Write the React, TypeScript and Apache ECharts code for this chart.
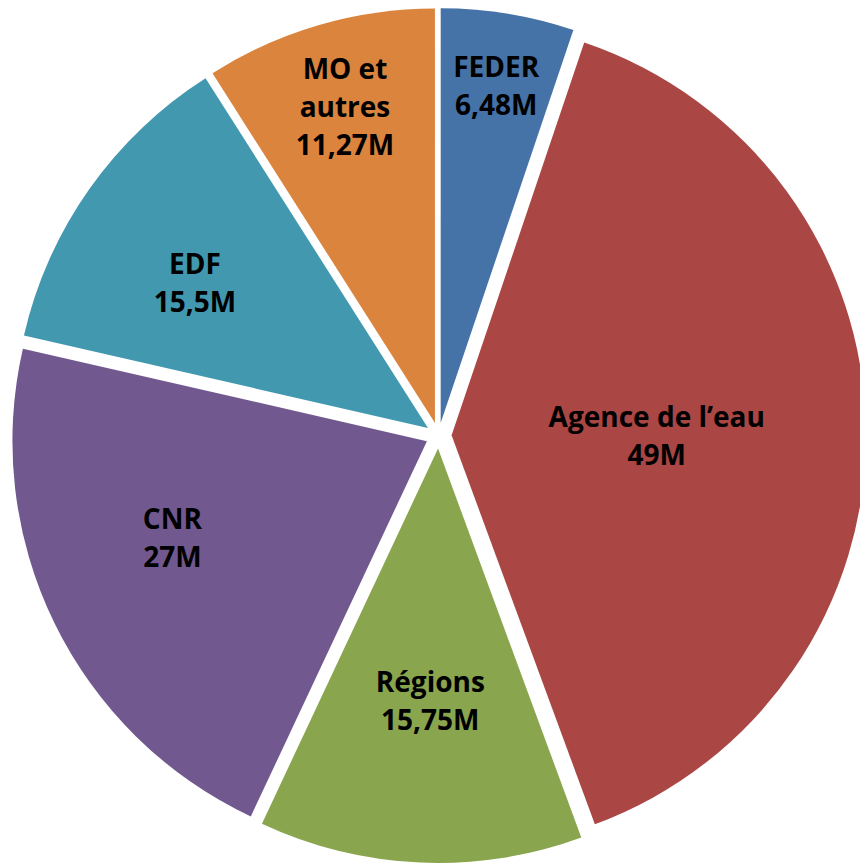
import React, { useEffect, useRef } from "react";
import * as echarts from "echarts";

const categories = ["FEDER", "Agence de l’eau", "Régions", "CNR", "EDF", "MO et\nautres"];
const values = [6.48, 49, 15.75, 27, 15.5, 11.27];
const colors = ["#4572A7", "#AA4643", "#89A54E", "#71588F", "#4198AF", "#DB843D"];
// label distance from the slice centre, as a fraction of the radius, and angle tweak (deg)
const labelRadius = [0.825, 0.495, 0.607, 0.656, 0.663, 0.796];
const labelAngleShift = [0, 0.8, -0.7, 5.4, -3.2, 0.4];

const CX = 438.6;
const CY = 435.5;
const R = 414.5;
const D = 13;

export default function App() {
  const ref = useRef<HTMLDivElement>(null);
  useEffect(() => {
    if (!ref.current) return;
    const chart = echarts.init(ref.current, null, { renderer: "svg" });
    const total = values.reduce((a, b) => a + b, 0);
    const mids: number[] = [];
    let acc = 0;
    values.forEach((v) => {
      mids.push(((acc + v / 2) / total) * 360);
      acc += v;
    });
    const texts = categories.map((name, i) => {
      const bis = (mids[i] * Math.PI) / 180;
      const a = ((mids[i] + labelAngleShift[i]) * Math.PI) / 180;
      const dist = labelRadius[i] * R;
      return {
        type: "text",
        x: CX + D * Math.sin(bis) + dist * Math.sin(a),
        y: CY - D * Math.cos(bis) - dist * Math.cos(a),
        z: 100,
        style: {
          text: name + "\n" + String(values[i]).replace(".", ",") + "M",
          fill: "#000",
          fontFamily: "Open Sans",
          fontWeight: "bold",
          fontSize: 28,
          lineHeight: 38,
          textAlign: "center",
          textVerticalAlign: "middle",
        },
      };
    });
    chart.setOption({
      animation: false,
      graphic: texts,
      series: [
        {
          type: "pie",
          center: [CX, CY],
          radius: [0, R],
          startAngle: 90,
          clockwise: true,
          selectedMode: "multiple",
          selectedOffset: D,
          emphasis: { disabled: true },
          itemStyle: { borderWidth: 0 },
          label: { show: false },
          labelLine: { show: false },
          data: categories.map((name, i) => ({
            name,
            value: values[i],
            selected: true,
            itemStyle: { color: colors[i] },
            select: { itemStyle: { color: colors[i], borderWidth: 0 } },
          })),
        },
      ],
    });
    return () => chart.dispose();
  }, []);
  return (
    <div
      ref={ref}
      style={{ position: "absolute", left: 0, top: 0, width: 860, height: 866 }}
    />
  );
}
